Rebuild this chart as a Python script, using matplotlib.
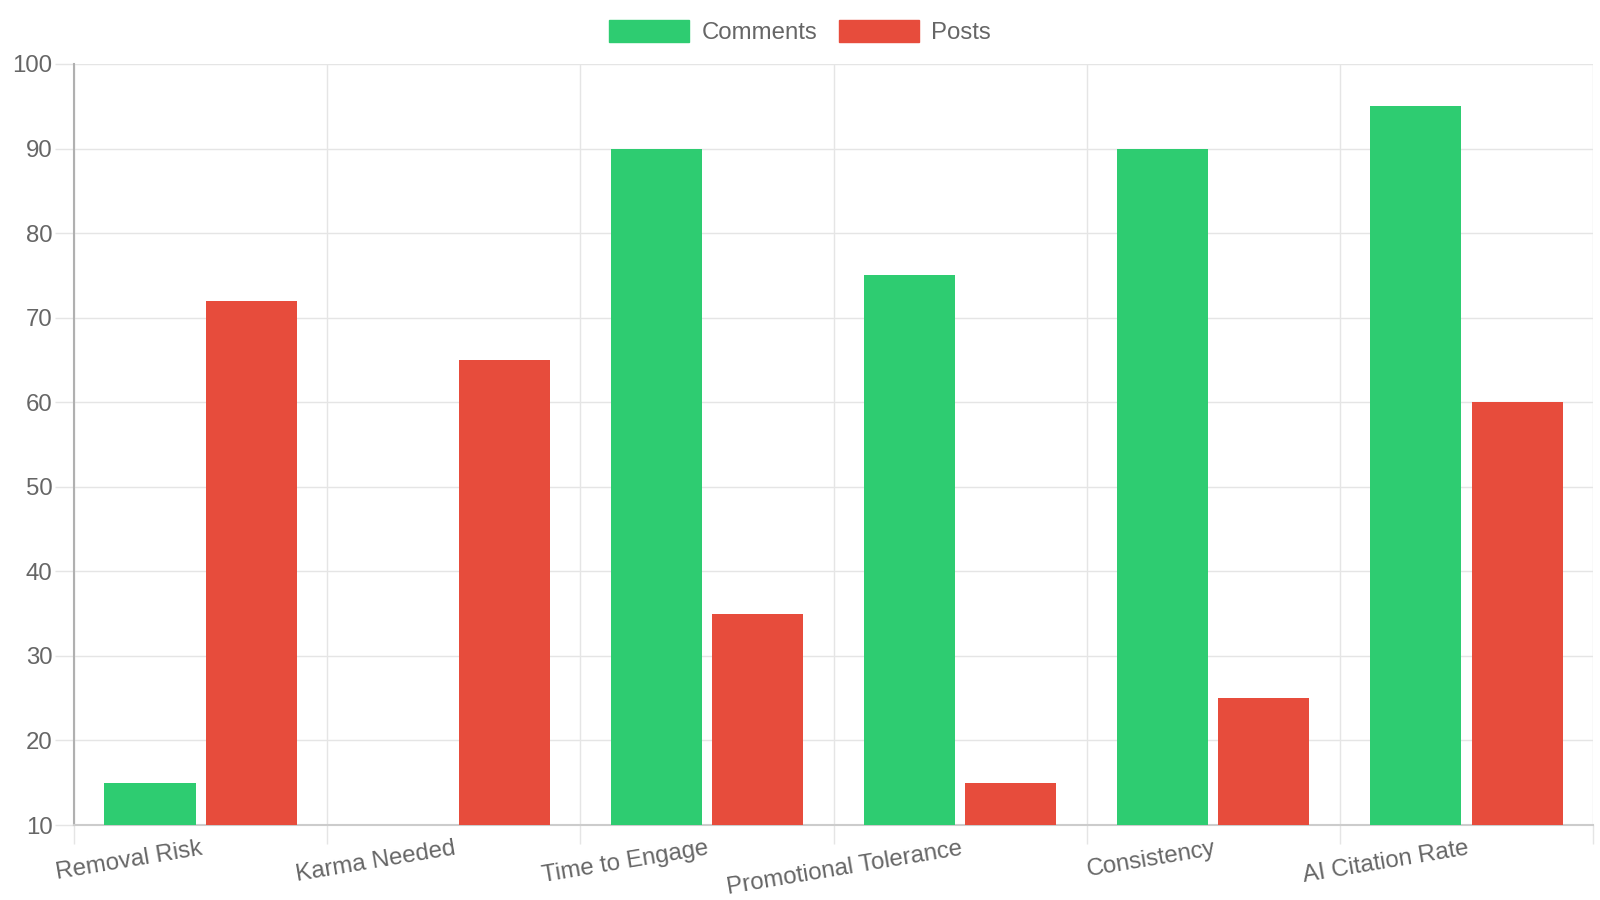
import matplotlib
matplotlib.use('Agg')
import matplotlib.pyplot as plt
import numpy as np
from matplotlib.patches import Patch

categories = ['Removal Risk', 'Karma Needed', 'Time to Engage',
              'Promotional Tolerance', 'Consistency', 'AI Citation Rate']
comments = [15, 10, 90, 75, 90, 95]
posts = [72, 65, 35, 15, 25, 60]
y_ticks = [10, 20, 30, 40, 50, 60, 70, 80, 90, 100]

GREEN = '#2ecc71'
RED = '#e74c3c'
GRID = '#e5e5e5'
TEXT = '#666666'

plt.rcParams['font.family'] = ['Liberation Sans', 'DejaVu Sans']

fig = plt.figure(figsize=(16, 9), dpi=100)
ax = fig.add_axes([0.04625, 0.0833, 0.9494, 0.8456])

x = np.arange(len(categories))
ax.bar(x - 0.2, comments, width=0.36, color=GREEN, zorder=3)
ax.bar(x + 0.2, posts, width=0.36, color=RED, zorder=3)

ax.set_xlim(-0.5, len(categories) - 0.5)
ax.set_ylim(10, 100)

# y axis
ax.set_yticks(y_ticks)
ax.tick_params(axis='y', length=14, width=1, color=GRID, pad=1.5,
               labelsize=17.3, labelcolor=TEXT)
ax.yaxis.grid(True, color=GRID, linewidth=1, zorder=0)

# x axis: labels at centres, grid/ticks at category boundaries
ax.set_xticks(x)
ax.set_xticklabels(categories)
ax.set_xticks(np.arange(len(categories) + 1) - 0.5, minor=True)
ax.tick_params(axis='x', which='major', length=0, pad=9,
               labelsize=17.3, labelcolor=TEXT)
ax.tick_params(axis='x', which='minor', length=14, width=1, color=GRID)
ax.xaxis.grid(True, which='minor', color=GRID, linewidth=1, zorder=0)
plt.setp(ax.get_xticklabels(), rotation=9.5, ha='right', va='top',
         rotation_mode='anchor')

for side in ['top', 'right']:
    ax.spines[side].set_visible(False)
ax.spines['left'].set_color('#b0b0b0')
ax.spines['bottom'].set_color('#cccccc')
ax.spines['left'].set_linewidth(1.5)
ax.spines['bottom'].set_linewidth(1.5)

handles = [Patch(color=GREEN, label='Comments'), Patch(color=RED, label='Posts')]
fig.legend(handles=handles, loc='center', bbox_to_anchor=(0.5, 0.964), ncol=2,
           frameon=False, fontsize=17.3, labelcolor=TEXT,
           handlelength=3.33, handleheight=1.0, handletextpad=0.54,
           columnspacing=0.875)

fig.savefig('out.png', dpi=100)
